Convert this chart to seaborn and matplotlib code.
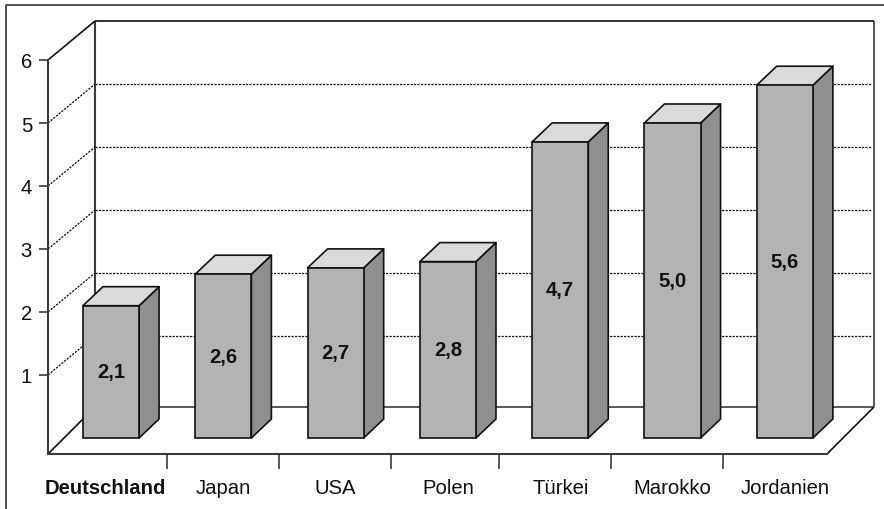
import matplotlib
matplotlib.use("Agg")
import matplotlib.pyplot as plt
from matplotlib.lines import Line2D
from matplotlib.patches import Polygon
from matplotlib.transforms import ScaledTranslation
import pandas as pd
import seaborn as sns

countries = ["Deutschland", "Japan", "USA", "Polen", "Türkei", "Marokko", "Jordanien"]
rates = [2.1, 2.6, 2.7, 2.8, 4.7, 5.0, 5.6]
value_ticks = [1, 2, 3, 4, 5, 6]

W, H = 884, 510
DPI = 100
PX = 72 / DPI

FRONT = "#b2b4b2"
SIDE = "#8e908e"
TOP = "#d9dbd9"
EDGE = "#111111"
WALL = "#3c3c3c"
FONT_SIZE = 14.6

sns.set_theme(style="white")
plt.rcParams["font.family"] = ["Liberation Sans", "DejaVu Sans"]

fig = plt.figure(figsize=(W / DPI, H / DPI), dpi=DPI)
ax = fig.add_axes([48 / W, (H - 455) / H, (827 - 48) / W, (455 - 61) / H])

frame = pd.DataFrame({"land": countries, "rate": rates})
sns.barplot(data=frame, x="land", y="rate", width=0.5, color=FRONT, saturation=1,
            edgecolor=EDGE, linewidth=1.2, ax=ax, zorder=5)

# axis scales: one category is 112.3 px wide, one unit of value is 63 px tall
ux, uy = 112.3, 63.0
ax.set_xlim(-63 / ux, (827 - 111) / ux)
ax.set_ylim(-16 / uy, 6)
ax.set_xlabel("")
ax.set_ylabel("")

# box depth of each bar and depth of the chart floor and walls
bar_dx, bar_dy = 20 / ux, 19 / uy
wall_dx, wall_dy, floor_dy = 47 / ux, 39 / uy, 47 / uy
x0, x1 = ax.get_xlim()
y0, y1 = ax.get_ylim()

# side and top faces of the 3D boxes
for patch in ax.patches[:len(rates)]:
    l, w, h = patch.get_x(), patch.get_width(), patch.get_height()
    r = l + w
    ax.add_patch(Polygon([(r, 0), (r + bar_dx, bar_dy), (r + bar_dx, h + bar_dy), (r, h)],
                         facecolor=SIDE, edgecolor=EDGE, lw=1.2, zorder=4, clip_on=False,
                         joinstyle="round"))
    ax.add_patch(Polygon([(l, h), (l + bar_dx, h + bar_dy), (r + bar_dx, h + bar_dy), (r, h)],
                         facecolor=TOP, edgecolor=EDGE, lw=1.2, zorder=4, clip_on=False,
                         joinstyle="round"))

# value labels in the middle of the front faces
ax.bar_label(ax.containers[0], labels=[f"{v:.1f}".replace(".", ",") for v in rates],
             label_type="center", fontsize=FONT_SIZE, fontweight="bold", color="#111111", zorder=6)


def wall_line(xs, ys, **kw):
    style = dict(color=WALL, lw=1.1, clip_on=False, zorder=2, solid_capstyle="butt")
    style.update(kw)
    ax.plot(xs, ys, **style)


back_l, back_r = x0 + wall_dx, x1 + wall_dx
floor_back = y0 + floor_dy

# back wall and floor outline
wall_line([back_l, back_l], [floor_back, y1 + wall_dy], lw=1.5)
wall_line([back_r, back_r], [floor_back, y1 + wall_dy], lw=1.2)
wall_line([back_l, back_r], [y1 + wall_dy, y1 + wall_dy], color=EDGE, lw=1.2)
wall_line([back_l, back_r], [floor_back, floor_back], lw=1.2)
wall_line([x0, back_l], [y0, floor_back], color=EDGE, lw=1.2)
wall_line([x1, back_r], [y0, floor_back], color=EDGE, lw=1.2)
wall_line([x0, back_l], [y1, y1 + wall_dy], color=EDGE, lw=1.2)

# dotted gridlines along the side wall and the back wall
for v in value_ticks[:-1]:
    wall_line([x0, back_l], [v, v + wall_dy], color=EDGE, lw=0.9, ls=(0, (1.8, 1.0)))
    wall_line([back_l, back_r - 3 / ux], [v + wall_dy, v + wall_dy], color=EDGE, lw=0.9,
              ls=(0, (1.8, 1.0)))

# axes: front left edge, floor edge, outer ticks
for side in ("top", "right"):
    ax.spines[side].set_visible(False)
for side in ("left", "bottom"):
    ax.spines[side].set_color(WALL)
    ax.spines[side].set_linewidth(1.5)

ax.set_yticks(value_ticks)
ax.set_yticklabels([str(v) for v in value_ticks])
ax.tick_params(axis="y", left=True, length=9 * PX, width=1.2, color=WALL, pad=7 * PX,
               labelsize=FONT_SIZE, labelcolor="#111111")

# separators between the categories, spaced unevenly by a few pixels
separator_gaps = [0, 112, 112, 108, 112, 112]
separators, pos = [], 0.5
for gap in separator_gaps:
    pos += gap / ux
    separators.append(pos)
ax.set_xticks(separators)
ax.set_xticklabels([])
ax.set_xticks(range(len(countries)), labels=countries, minor=True)
ax.tick_params(axis="x", which="major", bottom=True, length=15 * PX, width=1.2, color=WALL)
ax.tick_params(axis="x", which="minor", bottom=False, length=0, pad=24 * PX,
               labelsize=FONT_SIZE, labelcolor="#111111")

# the first country is emphasised and its longer label is pulled left of the separator
first = ax.get_xticklabels(minor=True)[0]
first.set_fontweight("bold")
first.set_transform(first.get_transform() + ScaledTranslation(-5.5 / DPI, 0, fig.dpi_scale_trans))

# outer chart border on the top and left
fig.add_artist(Line2D([6 / W, 6 / W, 1], [0, 1 - 5.5 / H, 1 - 5.5 / H], color="#444444", lw=1.3))

fig.savefig("out.png", dpi=DPI)
